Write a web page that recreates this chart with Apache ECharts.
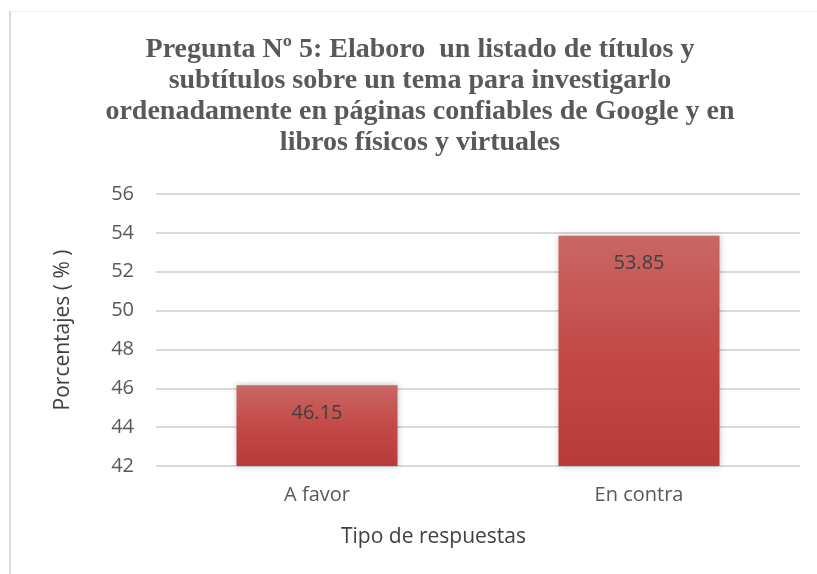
<!DOCTYPE html>
<html>
<head>
<meta charset="utf-8">
<script src="https://cdn.jsdelivr.net/npm/echarts@6/dist/echarts.min.js"></script>
<style>
html,body{margin:0;padding:0;background:#fff;}
#chart{width:817px;height:574px;}
</style>
</head>
<body>
<div id="chart"></div>
<script>
const titleText = 'Pregunta Nº 5: Elaboro  un listado de títulos y\nsubtítulos sobre un tema para investigarlo\nordenadamente en páginas confiables de Google y en\nlibros físicos y virtuales';
const categories = ['A favor', 'En contra'];
const values = [46.15, 53.85];
const yTicks = { min: 42, max: 56, interval: 2 };
const yAxisName = 'Porcentajes ( % )';
const xAxisName = 'Tipo de respuestas';

const chart = echarts.init(document.getElementById('chart'));
chart.setOption({
  backgroundColor: '#fff',
  animation: false,
  title: {
    text: titleText,
    left: 415,
    top: 29,
    textAlign: 'center',
    textStyle: {
      fontFamily: 'Liberation Serif',
      fontWeight: 'bold',
      fontSize: 28,
      lineHeight: 31,
      color: '#595959'
    }
  },
  graphic: [
    { type: 'rect', shape: { x: 9, y: 11, width: 2, height: 570 }, style: { fill: '#d9d9d9' }, silent: true },
    { type: 'rect', shape: { x: 11, y: 11, width: 806, height: 1 }, style: { fill: '#f2f2f2' }, silent: true },
    { type: 'text', left: 341, top: 527, style: { text: xAxisName, font: '21px "Open Sans"', fill: '#404040' } }
  ],
  grid: { left: 156, right: 17, top: 194, bottom: 108, containLabel: false },
  xAxis: {
    type: 'category',
    data: categories,
    axisLine: { show: false },
    axisTick: { show: false },
    axisLabel: { color: '#595959', fontSize: 20, fontFamily: 'Open Sans', margin: 19 }
  },
  yAxis: {
    type: 'value',
    min: yTicks.min,
    max: yTicks.max,
    interval: yTicks.interval,
    name: yAxisName,
    nameLocation: 'middle',
    nameGap: 82,
    nameTextStyle: { color: '#404040', fontSize: 21, fontFamily: 'Open Sans' },
    axisLine: { show: false },
    axisTick: { show: false },
    axisLabel: { color: '#595959', fontSize: 20, fontFamily: 'Open Sans', margin: 22 },
    splitLine: { lineStyle: { color: '#d9d9d9', width: 2 } }
  },
  series: [{
    type: 'bar',
    data: values,
    barWidth: '50%',
    itemStyle: {
      color: new echarts.graphic.LinearGradient(0, 0, 0, 1, [
        { offset: 0, color: '#c96764' },
        { offset: 0.5, color: '#c34a48' },
        { offset: 1, color: '#b83a3a' }
      ]),
      shadowColor: 'rgba(0,0,0,0.25)',
      shadowBlur: 6,
      shadowOffsetX: 0,
      shadowOffsetY: 0
    },
    label: {
      show: true,
      position: 'insideTop',
      distance: 18,
      color: '#404040',
      fontSize: 20,
      fontFamily: 'Open Sans',
      formatter: p => p.value.toFixed(2)
    }
  }]
});
</script>
</body>
</html>
